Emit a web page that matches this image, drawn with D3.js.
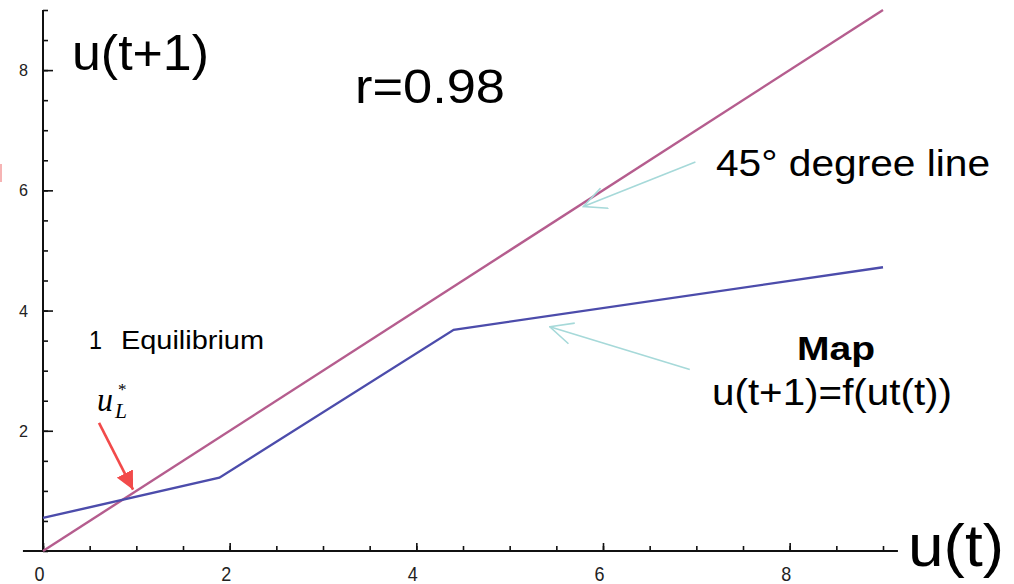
<!DOCTYPE html>
<html>
<head>
<meta charset="utf-8">
<script src="https://cdn.jsdelivr.net/npm/d3@7"></script>
<style>
  html, body { margin: 0; padding: 0; background: #fff; }
  svg { display: block; }
</style>
</head>
<body>
<svg id="chart" width="1014" height="584"></svg>
<script>
// 45-degree reference line u(t+1) = u(t)
const diagonalX = [0, 9];
const diagonalY = [0, 9];
// Piecewise-linear map u(t+1) = f(u(t))
const mapX = [0, 1.89, 4.40, 9];
const mapY = [0.55, 1.22, 3.68, 4.72];
// Axis ticks
const majorTicks = [0, 2, 4, 6, 8];
const minorTicks = [0, 0.5, 1, 1.5, 2, 2.5, 3, 3.5, 4, 4.5, 5, 5.5, 6, 6.5, 7, 7.5, 8, 8.5, 9];

const svg = d3.select("#chart");
const x = d3.scaleLinear().domain([0, 9]).range([43, 883]);
const y = d3.scaleLinear().domain([0, 9]).range([551, 10]);

const axisColor = "#111";
const sans = "'Liberation Sans', Arial, sans-serif";
const serif = "'Liberation Serif', 'Times New Roman', serif";

// ---- axes ----
const gx = svg.append("g").attr("transform", `translate(0,${y(0)})`);
gx.append("g").call(d3.axisBottom(x).tickValues(minorTicks).tickSize(-5).tickFormat(""));
gx.append("g").call(d3.axisBottom(x).tickValues(majorTicks).tickSize(-8).tickPadding(15).tickFormat(d3.format("d")));
gx.selectAll(".domain").remove();
gx.append("line")
  .attr("x1", x(-0.215)).attr("x2", x(9.16))
  .attr("stroke", axisColor).attr("stroke-width", 2);
gx.selectAll(".tick line").attr("stroke", axisColor).attr("stroke-width", 1.6);
gx.selectAll(".tick text")
  .attr("fill", "#222").attr("dx", -4)
  .style("font-family", sans).style("font-size", "21px")
  .attr("textLength", 10).attr("lengthAdjust", "spacingAndGlyphs");

const gy = svg.append("g").attr("transform", `translate(${x(0)},0)`);
gy.append("g").call(d3.axisLeft(y).tickValues(minorTicks).tickSize(-5).tickFormat(""));
gy.append("g").call(d3.axisLeft(y).tickValues(majorTicks.filter(d => d > 0)).tickSize(-10).tickPadding(15).tickFormat(d3.format("d")));
gy.selectAll(".domain").remove();
gy.append("line")
  .attr("y1", y(0)).attr("y2", y(9))
  .attr("stroke", axisColor).attr("stroke-width", 2);
gy.selectAll(".tick line").attr("stroke", axisColor).attr("stroke-width", 1.6);
gy.selectAll(".tick text")
  .attr("fill", "#222")
  .style("font-family", sans).style("font-size", "17px")
  .attr("textLength", 9).attr("lengthAdjust", "spacingAndGlyphs");

// ---- series ----
const line = d3.line().x(d => x(d[0])).y(d => y(d[1]));
svg.append("path")
  .datum(d3.zip(diagonalX, diagonalY))
  .attr("d", line)
  .attr("fill", "none").attr("stroke", "#b55d8e").attr("stroke-width", 2.4);
svg.append("path")
  .datum(d3.zip(mapX, mapY))
  .attr("d", line)
  .attr("fill", "none").attr("stroke", "#4c4cab").attr("stroke-width", 2.4);

// ---- arrows ----
const defs = svg.append("defs");
defs.append("marker")
  .attr("id", "redHead").attr("viewBox", "0 0 10 10")
  .attr("refX", 10).attr("refY", 5)
  .attr("markerWidth", 7).attr("markerHeight", 7)
  .attr("markerUnits", "strokeWidth").attr("orient", "auto")
  .append("path").attr("d", "M0,0 L10,5 L0,10 Z").attr("fill", "#f24a4a");

defs.append("marker")
  .attr("id", "openHead").attr("viewBox", "0 0 20 20")
  .attr("refX", 19).attr("refY", 10)
  .attr("markerWidth", 15).attr("markerHeight", 15)
  .attr("markerUnits", "strokeWidth").attr("orient", "auto")
  .append("path").attr("d", "M0,1 L19,10 L0,19")
  .attr("fill", "none").attr("stroke", "#a6d9d9").attr("stroke-width", 1.3);

// pointer to the equilibrium u*_L
svg.append("line")
  .attr("x1", x(0.6)).attr("y1", y(2.13))
  .attr("x2", x(0.965)).attr("y2", y(1.02))
  .attr("stroke", "#f24a4a").attr("stroke-width", 2.6)
  .attr("marker-end", "url(#redHead)");

// pointers to the 45-degree line and to the map
svg.append("line")
  .attr("x1", x(6.99)).attr("y1", y(6.47))
  .attr("x2", x(5.79)).attr("y2", y(5.73))
  .attr("stroke", "#a6d9d9").attr("stroke-width", 1.6)
  .attr("marker-end", "url(#openHead)");
svg.append("line")
  .attr("x1", x(6.93)).attr("y1", y(3.02))
  .attr("x2", x(5.43)).attr("y2", y(3.73))
  .attr("stroke", "#a6d9d9").attr("stroke-width", 1.6)
  .attr("marker-end", "url(#openHead)");

// ---- labels ----
function label(txt, px, py, size, opts = {}) {
  const t = svg.append("text")
    .attr("x", px).attr("y", py)
    .attr("fill", opts.fill || "#000")
    .style("font-family", opts.family || sans)
    .style("font-size", size + "px")
    .style("font-weight", opts.weight || "normal")
    .style("font-style", opts.style || "normal")
    .attr("text-anchor", opts.anchor || "start")
    .text(txt);
  if (opts.len) t.attr("textLength", opts.len).attr("lengthAdjust", "spacingAndGlyphs");
  return t;
}

label("u(t+1)", 72, 70, 50, { len: 137 });
label("r=0.98", 355, 103, 48, { len: 150 });
label("45° degree line", 716, 176, 36, { len: 274 });
label("Map", 836, 360, 34, { weight: "bold", anchor: "middle", len: 78 });
label("u(t+1)=f(ut(t))", 712, 405, 36, { len: 240 });
label("1", 89, 349, 26, { len: 13 });
label("Equilibrium", 121, 349, 26, { len: 143 });
label("u(t)", 908, 566, 60, { len: 96 });

// u*_L
label("u", 97, 411, 34, { family: serif, style: "italic", len: 16 });
label("L", 115, 418, 22, { family: serif, style: "italic", len: 12 });
label("*", 118, 395, 17, { family: serif });

// small fragment at the left edge
svg.append("rect").attr("x", 0).attr("y", 164).attr("width", 2).attr("height", 18).attr("fill", "#f6b4b4");
</script>
</body>
</html>
